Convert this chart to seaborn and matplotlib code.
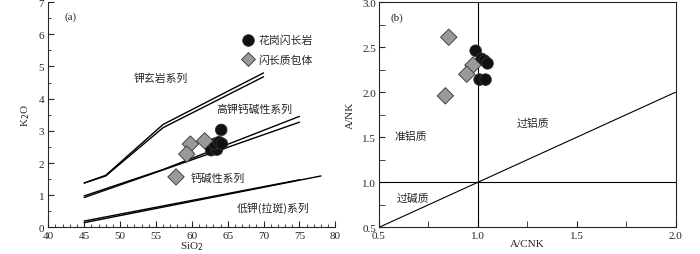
import numpy as np
import pandas as pd
import matplotlib
matplotlib.use("Agg")
import matplotlib.pyplot as plt
from matplotlib.ticker import MultipleLocator, FormatStrFormatter
import seaborn as sns

# ---- data (a): SiO2 vs K2O ----
gd_sio2 = [62.7, 63.5, 63.2, 63.8, 64.2, 64.1]
gd_k2o = [2.40, 2.42, 2.60, 2.65, 2.60, 3.03]
en_sio2 = [59.8, 59.3, 61.8, 57.8]
en_k2o = [2.59, 2.28, 2.69, 1.57]

# boundary lines (double lines as in the original diagram)
sho_x1 = [45, 48, 56, 70]
sho_y1 = [1.38, 1.62, 3.20, 4.80]
sho_x2 = [45, 48, 56, 70]
sho_y2 = [1.38, 1.60, 3.10, 4.68]
hk_x1 = [45, 56, 75]
hk_y1 = [0.98, 1.80, 3.45]
hk_x2 = [45, 75]
hk_y2 = [0.93, 3.27]
lk_x1 = [45, 78]
lk_y1 = [0.15, 1.60]
lk_x2 = [45, 75]
lk_y2 = [0.20, 1.48]

# ---- data (b): A/CNK vs A/NK ----
gd_acnk = [0.99, 1.02, 1.035, 1.05, 1.01, 1.04]
gd_ank = [2.46, 2.37, 2.35, 2.32, 2.14, 2.14]
en_acnk = [0.854, 0.976, 0.945, 0.837]
en_ank = [2.61, 2.30, 2.20, 1.96]

labels = ["花岗闪长岩", "闪长质包体"]

sns.set_style("ticks")
plt.rcParams['font.family'] = ['Liberation Serif', 'Noto Sans CJK SC']
plt.rcParams['xtick.direction'] = 'in'
plt.rcParams['ytick.direction'] = 'in'
plt.rcParams['axes.linewidth'] = 0.8

df_a = pd.DataFrame({
    "SiO2": gd_sio2 + en_sio2,
    "K2O": gd_k2o + en_k2o,
    "rock": [labels[0]] * len(gd_sio2) + [labels[1]] * len(en_sio2),
})
df_b = pd.DataFrame({
    "ACNK": gd_acnk + en_acnk,
    "ANK": gd_ank + en_ank,
    "rock": [labels[0]] * len(gd_acnk) + [labels[1]] * len(en_acnk),
})

pal = {labels[0]: "#111111", labels[1]: "#999999"}
mk = {labels[0]: "o", labels[1]: "D"}
cjk = ['Noto Sans CJK SC']
fs_cn = 7.8
fs_num = 8

fig = plt.figure(figsize=(7, 2.55), dpi=100)
ax1 = fig.add_axes([0.069, 0.104, 0.41, 0.884])
ax2 = fig.add_axes([0.541, 0.104, 0.424, 0.884])

# ---------- panel (a) ----------
for xs, ys in [(sho_x1, sho_y1), (sho_x2, sho_y2), (hk_x1, hk_y1),
               (hk_x2, hk_y2), (lk_x1, lk_y1), (lk_x2, lk_y2)]:
    ax1.plot(xs, ys, color="black", lw=1.0)

sns.scatterplot(data=df_a, x="SiO2", y="K2O", hue="rock", style="rock",
                palette=pal, markers=mk, s=70, edgecolor="#333333",
                linewidth=0.6, legend=False, ax=ax1, zorder=3)

ax1.set_xlim(40, 80)
ax1.set_ylim(0, 7)
ax1.xaxis.set_major_locator(MultipleLocator(5))
ax1.xaxis.set_minor_locator(MultipleLocator(1))
ax1.yaxis.set_major_locator(MultipleLocator(1))
ax1.yaxis.set_minor_locator(MultipleLocator(0.5))
ax1.tick_params(which="major", length=4, width=0.8, labelsize=fs_num, pad=3)
ax1.tick_params(axis="x", which="major", pad=2.5)
ax1.tick_params(which="minor", length=2.5, width=0.6)
sns.despine(ax=ax1)
ax1.set_xlabel("SiO$_2$", fontsize=fs_num, labelpad=-0.5)
ax1.set_ylabel("K$_2$O", fontsize=fs_num, labelpad=5)

ax1.text(42.2, 6.55, "(a)", fontsize=fs_num, va="center")
ax1.text(51.9, 4.64, "钾玄岩系列", family=cjk, fontsize=fs_cn, va="center")
ax1.text(63.4, 3.70, "高钾钙碱性系列", family=cjk, fontsize=fs_cn, va="center")
ax1.text(59.8, 1.54, "钙碱性系列", family=cjk, fontsize=fs_cn, va="center")
ax1.text(66.2, 0.63, "低钾(拉斑)系列", family=cjk, fontsize=fs_cn, va="center")

# legend drawn as markers + text
ax1.scatter([67.8], [5.83], s=70, marker="o", color=pal[labels[0]],
            edgecolor="#333333", linewidth=0.6)
ax1.scatter([67.8], [5.22], s=50, marker="D", color=pal[labels[1]],
            edgecolor="#333333", linewidth=0.6)
ax1.text(69.3, 5.83, labels[0], family=cjk, fontsize=fs_cn, va="center")
ax1.text(69.3, 5.22, labels[1], family=cjk, fontsize=fs_cn, va="center")

# ---------- panel (b) ----------
ax2.axvline(1.0, color="black", lw=0.8)
ax2.axhline(1.0, color="black", lw=0.8)
ax2.plot([0.5, 2.0], [0.5, 2.0], color="black", lw=0.8)

sns.scatterplot(data=df_b, x="ACNK", y="ANK", hue="rock", style="rock",
                palette=pal, markers=mk, s=70, edgecolor="#333333",
                linewidth=0.6, legend=False, ax=ax2, zorder=3)

ax2.set_xlim(0.5, 2.0)
ax2.set_ylim(0.5, 3.0)
ax2.xaxis.set_major_locator(MultipleLocator(0.5))
ax2.xaxis.set_minor_locator(MultipleLocator(0.25))
ax2.yaxis.set_major_locator(MultipleLocator(0.5))
ax2.yaxis.set_minor_locator(MultipleLocator(0.25))
ax2.xaxis.set_major_formatter(FormatStrFormatter("%.1f"))
ax2.yaxis.set_major_formatter(FormatStrFormatter("%.1f"))
ax2.tick_params(which="major", length=4, width=0.8, labelsize=fs_num, pad=2)
ax2.tick_params(axis="x", which="major", pad=2.5)
ax2.tick_params(which="minor", length=4, width=0.6)
ax2.set_xlabel("A/CNK", fontsize=fs_num, labelpad=-0.5)
ax2.set_ylabel("A/NK", fontsize=fs_num, labelpad=5)

ax2.text(0.56, 2.83, "(b)", fontsize=fs_num, va="center")
ax2.text(0.58, 1.52, "准铝质", family=cjk, fontsize=fs_cn, va="center")
ax2.text(1.195, 1.66, "过铝质", family=cjk, fontsize=fs_cn, va="center")
ax2.text(0.59, 0.83, "过碱质", family=cjk, fontsize=fs_cn, va="center")

fig.savefig("out.png", dpi=100)
